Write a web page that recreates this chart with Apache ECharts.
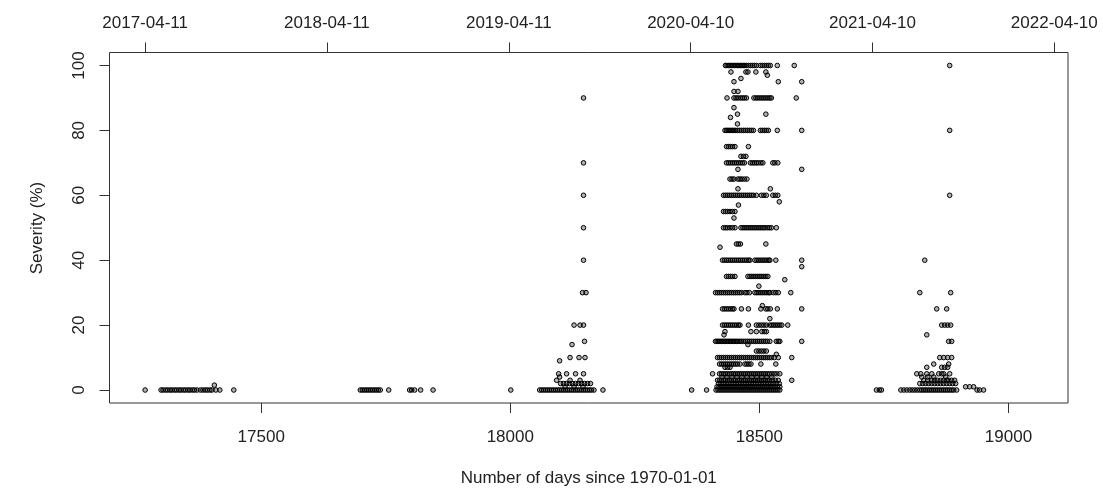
<!DOCTYPE html>
<html>
<head>
<meta charset="utf-8">
<script src="https://cdn.jsdelivr.net/npm/echarts@6/dist/echarts.min.js"></script>
<style>
html,body{margin:0;padding:0;background:#fff;}
#chart{width:1103px;height:490px;}
</style>
</head>
<body>
<div id="chart"></div>
<script>
// ---- Data (day number since 1970-01-01, severity %) ----
// each entry: [severity, [days...]]
const season2017 = [
  [0, [17267,17299,17303,17308,17312,17317,17321,17326,17330,17335,17339,17344,17348,17353,17357,17362,17366,17371,17378,17383,17388,17392,17397,17401,17409,17417,17445]],
  [1.5, [17406]]
];
const season2018 = [
  [0, [17699,17703,17707,17711,17715,17719,17723,17727,17731,17735,17739,17756,17798,17802,17808,17820,17845,18001]]
];
const season2019 = [
  [90, [18147]],
  [70, [18147]],
  [60, [18147]],
  [50, [18147]],
  [40, [18147]],
  [30, [18145,18152]],
  [20, [18128,18140,18147]],
  [15, [18149]],
  [14, [18124]],
  [10, [18120,18138,18150]],
  [9, [18099]],
  [5, [18097,18113,18131,18147]],
  [4, [18099]],
  [3, [18093,18120,18140]],
  [2, [18101,18107,18113,18119,18125,18131,18137,18143,18149,18155,18161]],
  [1, [18110,18128,18146]],
  [0, [18059,18063,18067,18071,18075,18079,18083,18087,18091,18095,18099,18103,18107,18111,18115,18119,18123,18127,18131,18135,18139,18143,18147,18151,18155,18159,18163,18168,18186]]
];
const season2020 = [
  [100, [18432,18435,18438,18441,18444,18447,18450,18453,18456,18459,18462,18465,18468,18471,18474,18478,18482,18486,18490,18494,18502,18506,18510,18514,18518,18522,18536,18570]],
  [98, [18443,18473,18477,18493,18513]],
  [97, [18516]],
  [96, [18463]],
  [95, [18449,18538,18585]],
  [92, [18449,18457]],
  [90, [18435,18449,18453,18457,18462,18466,18470,18474,18489,18493,18497,18501,18505,18509,18513,18517,18521,18524,18574]],
  [87, [18449]],
  [85, [18456,18513]],
  [84, [18442]],
  [82, [18456]],
  [80, [18431,18434,18437,18440,18443,18446,18449,18452,18456,18460,18464,18468,18472,18476,18480,18484,18488,18502,18506,18510,18514,18518,18536,18585]],
  [75, [18434,18438,18442,18446,18451,18478]],
  [72, [18463,18468,18473]],
  [70, [18434,18438,18442,18446,18450,18454,18458,18462,18466,18470,18482,18486,18490,18494,18498,18503,18507,18527,18531,18537]],
  [68, [18457,18585]],
  [65, [18441,18445,18449,18457,18461,18465,18470,18475]],
  [62, [18457,18522]],
  [60, [18428,18432,18436,18440,18444,18448,18452,18456,18460,18464,18468,18472,18476,18480,18484,18488,18494,18504,18509,18514,18527,18532,18537]],
  [58, [18540]],
  [57, [18458]],
  [55, [18428,18432,18436,18441,18446,18451]],
  [53, [18449]],
  [50, [18428,18432,18436,18441,18446,18451,18463,18467,18471,18475,18479,18483,18487,18491,18495,18499,18503,18507,18511,18516,18520,18524,18534]],
  [45, [18454,18458,18462,18513]],
  [44, [18421]],
  [40, [18426,18430,18434,18438,18442,18446,18450,18454,18458,18462,18466,18470,18474,18478,18481,18491,18495,18499,18503,18507,18511,18515,18519,18521,18533,18585]],
  [38, [18585]],
  [35, [18434,18438,18442,18446,18451,18477,18481,18485,18489,18493,18497,18501,18505,18509,18513,18517]],
  [34, [18551]],
  [32, [18499]],
  [30, [18412,18416,18420,18424,18428,18432,18436,18440,18444,18448,18452,18456,18460,18464,18471,18475,18480,18491,18495,18499,18503,18507,18511,18515,18519,18521,18528,18533,18538,18563]],
  [26, [18506]],
  [25, [18426,18430,18434,18438,18442,18446,18449,18464,18478,18503,18513,18517,18522,18536,18585]],
  [22, [18521]],
  [20, [18426,18430,18434,18438,18442,18446,18450,18454,18458,18461,18478,18494,18499,18504,18509,18514,18521,18525,18529,18533,18537,18541,18545,18557]],
  [18, [18431,18483,18494,18505,18510,18514]],
  [17, [18429]],
  [15, [18412,18415,18418,18421,18424,18427,18430,18433,18436,18439,18442,18445,18448,18451,18454,18457,18461,18464,18468,18472,18476,18480,18484,18488,18492,18496,18500,18504,18508,18512,18516,18521,18534,18538,18541,18585]],
  [14, [18477]],
  [12, [18494,18499,18504,18509,18514]],
  [11, [18534]],
  [10, [18416,18420,18424,18428,18432,18436,18440,18444,18448,18452,18456,18460,18464,18468,18472,18476,18480,18484,18488,18492,18496,18500,18504,18508,18512,18516,18520,18524,18530,18538,18565]],
  [8, [18420,18424,18428,18432,18436,18440,18444,18448,18452,18456,18461,18471,18475,18479,18483,18503,18533]],
  [7, [18431,18436,18441]],
  [5, [18406,18420,18424,18428,18432,18436,18440,18444,18448,18452,18456,18460,18464,18468,18472,18476,18480,18484,18488,18492,18496,18500,18504,18508,18512,18516,18520,18525,18530,18535,18541]],
  [4, [18425,18435,18445,18455,18465,18475,18485,18495,18505,18515,18525]],
  [3, [18416,18420,18424,18428,18432,18436,18440,18444,18448,18452,18456,18460,18464,18468,18472,18476,18480,18484,18488,18492,18496,18500,18504,18508,18512,18516,18520,18526,18532,18538,18565]],
  [2, [18418,18423,18428,18433,18438,18443,18448,18453,18458,18463,18468,18473,18478,18483,18488,18493,18498,18503,18508,18513,18518,18523,18528,18534,18540]],
  [1, [18415,18419,18423,18427,18431,18435,18439,18443,18447,18451,18455,18459,18463,18467,18471,18475,18479,18483,18487,18491,18495,18499,18503,18507,18511,18515,18519,18523,18527,18531,18536,18541]],
  [0, [18364,18394,18413,18417,18421,18425,18429,18433,18437,18441,18445,18449,18453,18457,18461,18465,18469,18473,18477,18481,18485,18489,18493,18497,18501,18505,18509,18513,18517,18521,18525,18529,18533,18537,18541]]
];
const season2021 = [
  [100, [18882]],
  [80, [18882]],
  [60, [18882]],
  [40, [18832]],
  [30, [18822,18884]],
  [25, [18856,18876]],
  [20, [18866,18872,18878,18884]],
  [17, [18836]],
  [15, [18880,18886]],
  [10, [18862,18870,18878,18886]],
  [8, [18850,18880]],
  [7, [18836,18866,18872,18878]],
  [5, [18816,18824,18836,18846,18860,18866,18870,18882]],
  [4, [18826,18838,18850,18874]],
  [3, [18830,18838,18846,18852,18858,18864,18870,18876,18880,18886,18892]],
  [2, [18822,18828,18834,18840,18846,18852,18858,18864,18870,18876,18882,18888,18894]],
  [1, [18914,18922,18930]],
  [0, [18735,18741,18745,18784,18790,18796,18802,18807,18812,18817,18822,18826,18830,18834,18838,18842,18846,18850,18854,18858,18862,18866,18870,18874,18878,18882,18886,18890,18896,18937,18942,18950]]
];

// ---- Axes ----
const bottomTicks = [17500, 18000, 18500, 19000];
const topTickDays = [17267, 17632, 17997, 18362, 18727, 19092];
const topTickLabels = ['2017-04-11', '2018-04-11', '2019-04-11', '2020-04-10', '2021-04-10', '2022-04-10'];
const yTicks = [0, 20, 40, 60, 80, 100];
const xLabel = 'Number of days since 1970-01-01';
const yLabel = 'Severity (%)';

// ---- Build points ----
const points = [];
[season2017, season2018, season2019, season2020, season2021].forEach(season => {
  season.forEach(([sev, days]) => days.forEach(d => points.push([d, sev])));
});

const FONT = '"Liberation Sans", Arial, Helvetica, sans-serif';
const TXT = '#222';
const LINE = '#333';
const FS = 17;

const chart = echarts.init(document.getElementById('chart'), null, {renderer: 'canvas'});
const grid = {left: 109.5, right: 35, top: 52.5, bottom: 87};
chart.setOption({
  animation: false,
  backgroundColor: '#fff',
  grid: Object.assign({show: true, borderColor: LINE, borderWidth: 1, backgroundColor: 'transparent'}, grid),
  xAxis: [
    {
      type: 'value', position: 'bottom', min: 17195.5, max: 19119.5,
      axisLine: {show: false, onZero: false},
      splitLine: {show: false},
      axisTick: {show: true, inside: false, length: 10, customValues: bottomTicks, lineStyle: {color: LINE, width: 1}},
      axisLabel: {show: true, customValues: bottomTicks, margin: 26, color: TXT, fontSize: FS, fontFamily: FONT,
        formatter: v => String(v)}
    },
    {
      type: 'value', position: 'top', min: 17195.5, max: 19119.5,
      axisLine: {show: false, onZero: false},
      splitLine: {show: false},
      axisTick: {show: true, inside: false, length: 10, customValues: topTickDays, lineStyle: {color: LINE, width: 1}},
      axisLabel: {show: true, customValues: topTickDays, margin: 21, color: TXT, fontSize: FS, fontFamily: FONT,
        formatter: v => { const i = topTickDays.indexOf(Math.round(v)); return i >= 0 ? topTickLabels[i] : ''; }}
    }
  ],
  yAxis: {
    type: 'value', min: -4, max: 104,
    axisLine: {show: false, onZero: false},
    splitLine: {show: false},
    axisTick: {show: true, inside: false, length: 10, customValues: yTicks, lineStyle: {color: LINE, width: 1}},
    axisLabel: {show: true, customValues: yTicks, rotate: 90, margin: 22, color: TXT, fontSize: FS, fontFamily: FONT,
      formatter: v => String(v)}
  },
  graphic: [
    {type: 'text', x: (109.5 + 1068) / 2, y: 478, style: {text: xLabel, fill: TXT, font: FS + 'px ' + FONT, textAlign: 'center', textVerticalAlign: 'middle'}},
    {type: 'text', x: 37, y: 228, rotation: Math.PI / 2, style: {text: yLabel, fill: TXT, font: FS + 'px ' + FONT, textAlign: 'center', textVerticalAlign: 'middle'}}
  ],
  series: [{
    type: 'scatter',
    xAxisIndex: 0, yAxisIndex: 0,
    data: points,
    symbol: 'circle',
    symbolSize: 4.6,
    itemStyle: {color: 'rgba(0,0,0,0.3)', borderColor: '#000', borderWidth: 1, opacity: 1},
    emphasis: {disabled: true}
  }]
});
</script>
</body>
</html>
